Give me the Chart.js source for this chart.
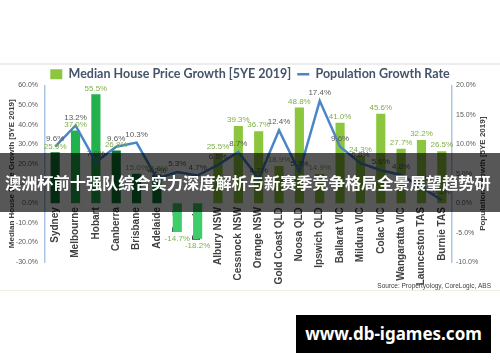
<!DOCTYPE html>
<html>
<head>
<meta charset="utf-8">
<script src="https://cdn.jsdelivr.net/npm/chart.js@4.4.0/dist/chart.umd.min.js"></script>
<style>
  body { margin: 0; background: #fff; }
  #wrap { position: relative; width: 500px; height: 362px; overflow: hidden; }
  #card { position: absolute; left: 0; top: 63px; width: 500px; height: 228px; border-top: 2px solid #ececec; border-bottom: 1px solid #f0ece4; box-sizing: border-box; }
  #chartBox { position: absolute; left: 0; top: 0; width: 500px; height: 362px; }
  #banner { position: absolute; left: 0; top: 153px; width: 500px; height: 59px; background: rgba(0,0,0,0.66); color: #fff;
    font: bold 16.2px "Noto Sans CJK SC", sans-serif; line-height: 59px; padding-left: 5px; box-sizing: border-box; white-space: nowrap; }
  #site { position: absolute; left: 296px; top: 315px; width: 195px; height: 38px; background: #000; color: #fff;
    font: bold 17px "Noto Sans", sans-serif; line-height: 38px; text-align: center; }
</style>
</head>
<body>
<div id="wrap">
  <div id="card"></div>
  <div id="chartBox"><canvas id="myChart"></canvas></div>
  <div id="banner">澳洲杯前十强队综合实力深度解析与新赛季竞争格局全景展望趋势研</div>
  <div id="site">www.db-igames.com</div>
</div>
<script>
// ข้อมูลจากกราฟ
const categories = ['Sydney', 'Melbourne', 'Hobart', 'Canberra', 'Brisbane', 'Adelaide', 'Perth', 'Darwin',
  'Albury NSW', 'Cessnock NSW', 'Orange NSW', 'Gold Coast QLD', 'Noosa QLD', 'Ipswich QLD', 'Ballarat VIC',
  'Mildura VIC', 'Colac VIC', 'Wangaratta VIC', 'Launceston TAS', 'Burnie TAS'];
const priceGrowth = [25.9, 37.0, 55.5, 26.8, 15.0, 14.6, -14.7, -18.2, 25.5, 39.3,
  36.7, 18.9, 48.8, 14.9, 41.0, 24.3, 45.6, 27.7, 32.2, 26.5];
const popGrowth = [9.6, 13.2, 7.0, 9.6, 10.3, 4.2, 5.3, 4.7, 6.5, 8.7,
  4.2, 12.4, 5.3, 17.4, 9.6, 6.8, 5.6, 4.8, 2.7, 0.5];
const leftTicks = [-30, 60, 10];   // min, max, step
const rightTicks = [-10, 20, 5];

const barColors = ['#0f7d36', '#22b14c', '#22b14c', '#0f7d36', '#0f7d36', '#0f7d36', '#3dcd6b', '#3dcd6b',
  '#8cc63f', '#8cc63f', '#8cc63f', '#8cc63f', '#8cc63f', '#8cc63f', '#8cc63f',
  '#8cc63f', '#8cc63f', '#8cc63f', '#8cc63f', '#8cc63f'];

// ป้ายค่าบนแท่งและเส้น + ข้อความเพิ่มเติม
const labelPlugin = {
  id: 'valueLabels',
  afterLayout(chart) {
    // ขยับ legend ลงมาเล็กน้อยให้ตรงกับภาพต้นฉบับ
    if (chart.legend) {
      chart.legend.top += 5;
      chart.legend.bottom += 5;
    }
  },
  afterDatasetsDraw(chart) {
    const ctx = chart.ctx;
    ctx.save();
    ctx.font = '8px "Liberation Sans", sans-serif';
    ctx.textAlign = 'center';
    chart.getDatasetMeta(0).data.forEach((el, i) => {
      const v = priceGrowth[i];
      ctx.fillStyle = '#7fae4b';
      ctx.textBaseline = v >= 0 ? 'bottom' : 'top';
      ctx.fillText(v.toFixed(1) + '%', el.x, v >= 0 ? el.y - 2 : el.y + 3);
    });
    chart.getDatasetMeta(1).data.forEach((el, i) => {
      ctx.fillStyle = '#595959';
      ctx.textBaseline = 'bottom';
      ctx.fillText(popGrowth[i].toFixed(1) + '%', el.x, el.y - 4);
    });
    ctx.restore();
  },
  afterDraw(chart) {
    const ctx = chart.ctx;
    const area = chart.chartArea;
    ctx.save();
    ctx.fillStyle = '#404040';
    ctx.font = 'bold 8px "Liberation Sans", sans-serif';
    ctx.textAlign = 'center';
    ctx.textBaseline = 'middle';
    ctx.translate(483, (area.top + area.bottom) / 2);
    ctx.rotate(-Math.PI / 2);
    ctx.fillText('Population Growth [5YE 2019]', 0, 0);
    ctx.restore();
    ctx.save();
    ctx.fillStyle = '#404040';
    ctx.font = '6.5px "Liberation Sans", sans-serif';
    ctx.textAlign = 'right';
    ctx.textBaseline = 'middle';
    ctx.fillText('Source: Propertyology, CoreLogic, ABS', 491, 286);
    ctx.restore();
  }
};

const ctx = document.getElementById('myChart').getContext('2d');
new Chart(ctx, {
  type: 'bar',
  data: {
    labels: categories,
    datasets: [{
      label: 'Median House Price Growth [5YE 2019]',
      data: priceGrowth,
      backgroundColor: barColors,
      yAxisID: 'y',
      order: 1,
      barPercentage: 0.45,
      categoryPercentage: 1,
      pointStyle: 'rect'
    }, {
      type: 'line',
      label: 'Population Growth Rate',
      data: popGrowth,
      borderColor: '#4a86c6',
      backgroundColor: '#4a86c6',
      borderWidth: 2.5,
      pointRadius: 0,
      pointStyle: 'line',
      tension: 0,
      yAxisID: 'y1',
      order: 0
    }]
  },
  options: {
    responsive: true,
    maintainAspectRatio: false,
    animation: false,
    layout: { padding: { top: 57, bottom: 100, left: 0, right: 0 } },
    plugins: {
      legend: {
        position: 'top',
        labels: {
          usePointStyle: true,
          pointStyleWidth: 12,
          boxHeight: 10,
          padding: 6,
          color: '#44546a',
          font: { family: 'Lato', size: 12.5, weight: 'bold' },
          sort: (a, b) => a.datasetIndex - b.datasetIndex,
          generateLabels: chart => {
            const items = Chart.defaults.plugins.legend.labels.generateLabels(chart);
            items.forEach(it => {
              if (it.datasetIndex === 0) {
                it.fillStyle = '#8cc63f';
                it.strokeStyle = '#8cc63f';
              }
            });
            return items;
          }
        }
      },
      tooltip: { enabled: false }
    },
    scales: {
      x: {
        position: { y: 0 },
        grid: { display: false, drawTicks: false },
        border: { display: false },
        ticks: {
          autoSkip: false,
          minRotation: 90,
          maxRotation: 90,
          padding: 4,
          color: '#404040',
          font: { family: 'Liberation Sans', size: 10, weight: 'bold' }
        }
      },
      y: {
        position: 'left',
        min: leftTicks[0], max: leftTicks[1],
        afterFit: s => { s.width = 45; },
        grid: { display: false, drawTicks: false },
        border: { display: true, color: '#a9c5e8', width: 1.5 },
        title: {
          display: true,
          text: 'Median House Price Growth [5YE 2019]',
          color: '#404040',
          padding: { top: 7, bottom: 0 },
          font: { family: 'Liberation Sans', size: 8, weight: 'bold' }
        },
        ticks: {
          stepSize: leftTicks[2],
          padding: 7,
          color: '#595959',
          font: { family: 'Liberation Sans', size: 7 },
          callback: v => v.toFixed(1) + '%'
        }
      },
      y1: {
        position: 'right',
        min: rightTicks[0], max: rightTicks[1],
        afterFit: s => { s.width = 48; },
        grid: { display: false, drawTicks: false },
        border: { display: true, color: '#a9c5e8', width: 1.5 },
        ticks: {
          stepSize: rightTicks[2],
          padding: 4,
          color: '#595959',
          font: { family: 'Liberation Sans', size: 7 },
          callback: v => v.toFixed(1) + '%'
        }
      }
    }
  },
  plugins: [labelPlugin]
});
</script>
</body>
</html>
